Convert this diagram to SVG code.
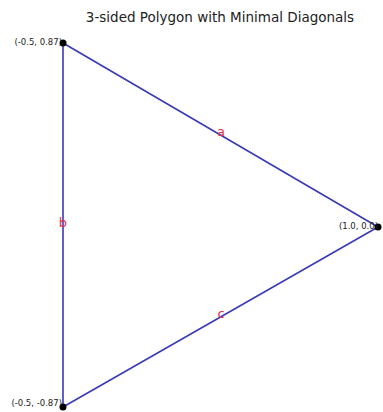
<svg xmlns="http://www.w3.org/2000/svg" width="383" height="412" viewBox="0 0 383 412">
<style>
.edge{stroke:#3a3ab4;stroke-width:1.6;fill:none;stroke-linecap:round}
.pt{fill:#000}
.coord{font-family:"DejaVu Sans",sans-serif;font-size:8.5px;fill:#222;text-anchor:end}
.el{font-family:"DejaVu Sans",sans-serif;font-size:13px;fill:#e8304a;text-anchor:middle}
.title{font-family:"DejaVu Sans",sans-serif;font-size:13.5px;fill:#222;text-anchor:middle}
</style>
<rect width="383" height="412" fill="#fff"/>
<text class="title" x="220" y="22">3-sided Polygon with Minimal Diagonals</text>
<g id="connectors">
<line class="edge" x1="63" y1="43" x2="378" y2="227"/>
<line class="edge" x1="63" y1="43" x2="63" y2="407"/>
<line class="edge" x1="378" y1="227" x2="63" y2="407"/>
<text class="el" x="221" y="136">a</text>
<text class="el" x="63" y="227">b</text>
<text class="el" x="221" y="318">c</text>
</g>
<g id="node-tl"><circle class="pt" cx="63" cy="43" r="3.5"/><text class="coord" x="62" y="45">(-0.5, 0.87)</text></g>
<g id="node-r"><circle class="pt" cx="378" cy="227" r="3.5"/><text class="coord" x="378" y="229">(1.0, 0.0)</text></g>
<g id="node-b"><circle class="pt" cx="63" cy="407" r="3.5"/><text class="coord" x="62" y="406">(-0.5, -0.87)</text></g>
</svg>
